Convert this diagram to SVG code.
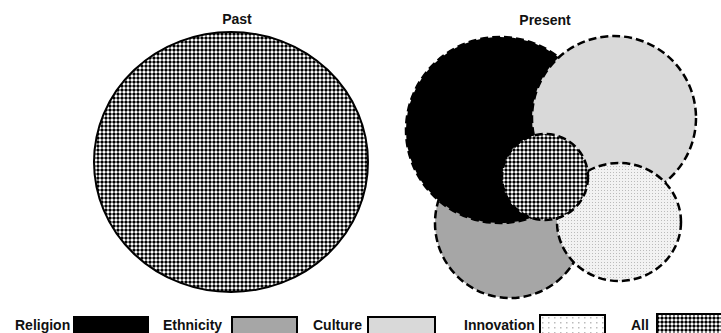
<svg xmlns="http://www.w3.org/2000/svg" width="721" height="333" viewBox="0 0 721 333">
<defs>
<pattern id="chk" width="4" height="4" patternUnits="userSpaceOnUse">
<rect width="4" height="4" fill="#fff"/>
<rect x="0" y="1.6" width="4" height="0.8" fill="#444"/>
<rect x="1.6" y="0" width="0.8" height="4" fill="#444"/>
<circle cx="2" cy="2" r="1.5" fill="#000"/>
</pattern>
<pattern id="dot" width="3" height="3" patternUnits="userSpaceOnUse">
<rect width="3" height="3" fill="#f2f2f2"/>
<rect x="1" y="1" width="1" height="1" fill="#bbb"/>
</pattern>
<pattern id="dotL" width="6" height="5" patternUnits="userSpaceOnUse">
<rect width="6" height="5" fill="#fff"/>
<rect x="2" y="2" width="1.5" height="1.5" fill="#bbb"/>
</pattern>
<style>
.t{font-family:"Liberation Sans",Arial,sans-serif;font-weight:bold;font-size:14px;fill:#111}
.d{stroke:#000;stroke-width:2.5;stroke-dasharray:8 4}
.b{stroke:#000;stroke-width:2}
</style>
</defs>
<rect width="721" height="333" fill="#fff"/>
<text class="t" x="237" y="24" text-anchor="middle">Past</text>
<text class="t" x="545" y="25" text-anchor="middle">Present</text>
<g id="past-all">
<ellipse cx="231" cy="162" rx="137" ry="130" fill="url(#chk)" class="b" stroke-width="2.5"/>
</g>
<g id="ethnicity">
<circle cx="510" cy="223" r="75" fill="#a6a6a6" class="d"/>
</g>
<g id="religion">
<ellipse cx="500" cy="130" rx="94" ry="93" fill="#000" class="d"/>
</g>
<g id="culture">
<circle cx="614" cy="118" r="82" fill="#d9d9d9" class="d"/>
</g>
<g id="innovation">
<ellipse cx="619" cy="222" rx="62" ry="59" fill="url(#dot)" class="d"/>
</g>
<g id="all">
<circle cx="545" cy="177" r="43" fill="url(#chk)" class="d"/>
</g>
<g id="connectors"></g>
<g id="legend">
<g id="leg-religion"><text class="t" x="15" y="330">Religion</text><rect x="74" y="317" width="74" height="20" fill="#000" class="b"/></g>
<g id="leg-ethnicity"><text class="t" x="163" y="330">Ethnicity</text><rect x="232" y="317" width="65" height="20" fill="#a6a6a6" class="b"/></g>
<g id="leg-culture"><text class="t" x="313" y="330">Culture</text><rect x="368" y="317" width="67" height="20" fill="#d9d9d9" class="b"/></g>
<g id="leg-innovation"><text class="t" x="464" y="330">Innovation</text><rect x="540" y="315" width="65" height="20" fill="url(#dotL)" class="b"/></g>
<g id="leg-all"><text class="t" x="631" y="330">All</text><rect x="657" y="314" width="70" height="22" fill="url(#chk)" class="b"/></g>
</g>
</svg>
